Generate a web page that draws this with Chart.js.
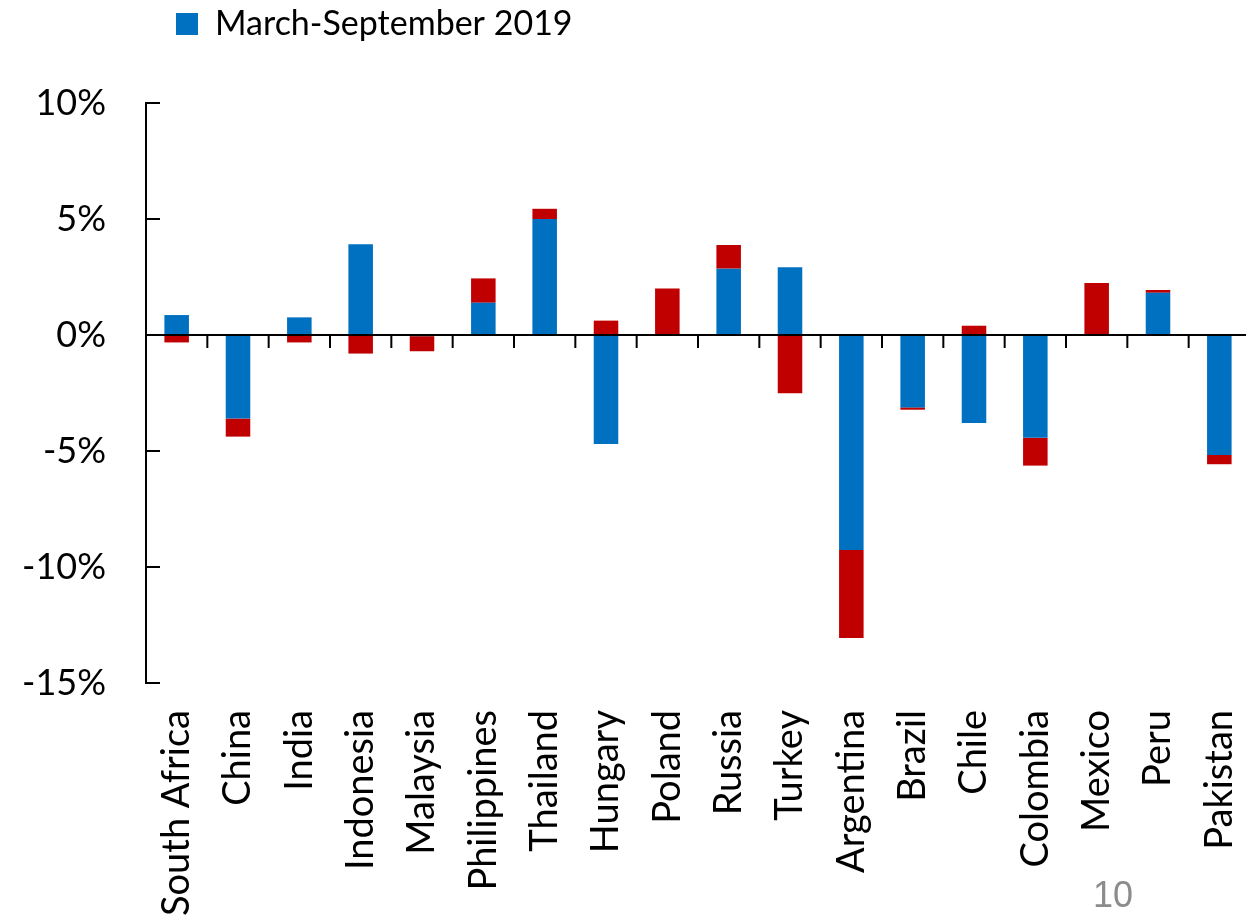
<!DOCTYPE html>
<html>
<head>
<meta charset="utf-8">
<script src="https://cdn.jsdelivr.net/npm/chart.js@4.4.1/dist/chart.umd.min.js"></script>
<style>
  html, body { margin: 0; padding: 0; background: #fff; overflow: hidden; }
  #wrap { position: relative; width: 1250px; height: 922px; }
  #pageNo {
    position: absolute; left: 1093px; top: 877px;
    font-family: "Liberation Sans", Arial, sans-serif; font-size: 36px; line-height: 36px;
    color: #8c8c8c;
  }
</style>
</head>
<body>
<div id="wrap">
  <canvas id="chart"></canvas>
  <div id="pageNo">10</div>
</div>
<script>
// Exchange-rate changes by country, in percent
const categories = ['South Africa', 'China', 'India', 'Indonesia', 'Malaysia', 'Philippines', 'Thailand',
  'Hungary', 'Poland', 'Russia', 'Turkey', 'Argentina', 'Brazil', 'Chile', 'Colombia', 'Mexico', 'Peru', 'Pakistan'];
const marchSeptember2019 = [0.86, -3.6, 0.76, 3.91, -0.05, 1.39, 5.0, -4.7, 0, 2.86, 2.92, -9.27, -3.12, -3.79, -4.43, 0, 1.82, -5.17];
const subsequentChange = [-0.32, -0.78, -0.32, -0.8, -0.65, 1.05, 0.44, 0.62, 2.0, 1.02, -2.51, -3.79, -0.1, 0.4, -1.2, 2.24, 0.12, -0.4];
const yTickValues = [-15, -10, -5, 0, 5, 10];

const BLUE = '#0070C0';
const RED = '#C00000';

Chart.defaults.font.family = 'Lato, "Noto Sans", sans-serif';
Chart.defaults.color = '#000';

// Zero line with boundary ticks below it, plus inward ticks on the value axis
const axisMarks = {
  id: 'axisMarks',
  afterDatasetsDraw(chart) {
    const { ctx, chartArea, scales: { x, y } } = chart;
    const y0 = y.getPixelForValue(0);
    ctx.save();
    ctx.strokeStyle = '#000';
    ctx.lineWidth = 2;
    ctx.beginPath();
    ctx.moveTo(chartArea.left, y0);
    ctx.lineTo(chartArea.right, y0);
    for (let i = 1; i < categories.length; i++) {
      const bx = (x.getPixelForValue(i - 1) + x.getPixelForValue(i)) / 2;
      ctx.moveTo(bx, y0);
      ctx.lineTo(bx, y0 + 13);
    }
    y.ticks.forEach(t => {
      const py = y.getPixelForValue(t.value);
      ctx.moveTo(chartArea.left, py);
      ctx.lineTo(chartArea.left + 14, py);
    });
    ctx.stroke();
    ctx.restore();
  }
};

// Places the legend row near the top-left corner
const legendPlacement = {
  id: 'legendPlacement',
  afterLayout(chart) {
    const lg = chart.legend;
    if (!lg) return;
    const pad = lg.options.labels.padding;
    const dx = 176 - (lg.left + pad);
    const dy = -3 - lg.top;
    lg.left += dx; lg.right += dx;
    lg.top += dy; lg.bottom += dy;
  }
};

new Chart(document.getElementById('chart'), {
  type: 'bar',
  data: {
    labels: categories,
    datasets: [
      { label: 'March-September 2019', data: marchSeptember2019, backgroundColor: BLUE,
        barPercentage: 0.4, categoryPercentage: 1.0 },
      { label: 'Subsequent change', data: subsequentChange, backgroundColor: RED,
        barPercentage: 0.4, categoryPercentage: 1.0 }
    ]
  },
  options: {
    responsive: true,
    maintainAspectRatio: false,
    animation: false,
    layout: { padding: { top: 49, left: 0, right: 0, bottom: 0 } },
    plugins: {
      tooltip: { enabled: false },
      legend: {
        position: 'top',
        align: 'start',
        labels: {
          font: { size: 34 },
          boxWidth: 22,
          boxHeight: 22,
          padding: 10,
          filter: item => item.datasetIndex === 0
        }
      }
    },
    scales: {
      x: {
        stacked: true,
        grid: { display: false, drawTicks: false },
        border: { display: false },
        ticks: { font: { size: 38 }, minRotation: 90, maxRotation: 90, padding: 27, autoSkip: false },
        afterFit(scale) {
          scale.height = 239;
          scale.paddingLeft = 0;
          scale.paddingRight = 0;
        }
      },
      y: {
        stacked: true,
        min: -15,
        max: 10,
        afterBuildTicks(scale) { scale.ticks = yTickValues.map(v => ({ value: v })); },
        grid: { display: false, drawTicks: false },
        border: { display: true, color: '#000', width: 2 },
        ticks: { font: { size: 36 }, padding: 40, callback: v => v + '%' },
        afterFit(scale) { scale.width = 146; }
      }
    }
  },
  plugins: [axisMarks, legendPlacement]
});
</script>
</body>
</html>
